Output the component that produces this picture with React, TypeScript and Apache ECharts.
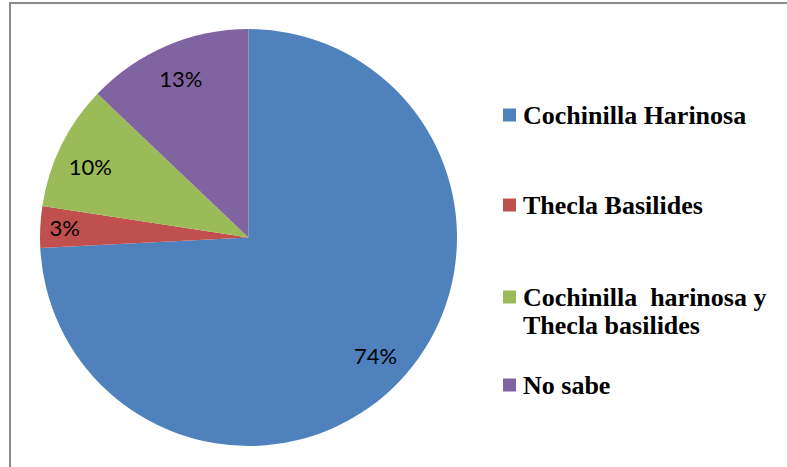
import React, { useEffect, useRef } from "react";
import * as echarts from "echarts";

const categories = [
  "Cochinilla Harinosa",
  "Thecla Basilides",
  "Cochinilla  harinosa y\nThecla basilides",
  "No sabe",
];
const counts = [23, 1, 3, 4];
const colors = ["#4F81BD", "#C0504D", "#9BBB59", "#8064A2"];
const legendCenters = [115, 205, 297, 385];
const labelOffsets = [[1, -2], [-10, -1], [-2, 6], [1, 1]];

export default function App() {
  const ref = useRef<HTMLDivElement>(null);
  useEffect(() => {
    if (!ref.current) return;
    const chart = echarts.init(ref.current, null, { renderer: "svg" });
    const cx = 248.5;
    const cy = 237.5;
    const r = 208.5;
    const data = categories.map((name, i) => ({ name, value: counts[i] }));
    const labelData = categories.map((name, i) => ({
      name,
      value: counts[i],
      label: { offset: labelOffsets[i] },
    }));
    const legendFont = {
      fontFamily: "Liberation Serif",
      fontWeight: "bold" as const,
      fontSize: 26,
      color: "#000",
      lineHeight: 28,
      padding: [0, 0, 0, 2],
    };
    const legends = categories.map((name, i) => {
      const multi = name.includes("\n");
      const h = multi ? 84 : 28;
      return {
        show: true,
        orient: "vertical" as const,
        left: 503,
        top: legendCenters[i] - h / 2,
        padding: 0,
        itemWidth: 13,
        itemHeight: 13,
        icon: "rect",
        selectedMode: false,
        data: [name],
        formatter: multi ? (n: string) => " \n" + n : undefined,
        textStyle: legendFont,
      };
    });
    chart.setOption({
      animation: false,
      color: colors,
      legend: legends,
      graphic: [
        {
          type: "rect",
          shape: { x: 10, y: 3, width: 800, height: 500 },
          style: { fill: "none", stroke: "#8a8a8a", lineWidth: 2 },
          silent: true,
        },
      ],
      series: [
        {
          type: "pie",
          center: [cx, cy],
          radius: [0, r],
          startAngle: 90,
          clockwise: true,
          label: { show: false },
          labelLine: { show: false },
          itemStyle: { borderWidth: 0 },
          emphasis: { disabled: true },
          data,
        },
        {
          type: "pie",
          center: [cx, cy],
          radius: [r * 0.64, r],
          startAngle: 90,
          clockwise: true,
          silent: true,
          percentPrecision: 0,
          itemStyle: { color: "rgba(0,0,0,0)", borderWidth: 0 },
          label: {
            show: true,
            position: "inside",
            formatter: "{d}%",
            fontFamily: "Lato",
            fontSize: 22,
            color: "#000",
          },
          labelLine: { show: false },
          emphasis: { disabled: true },
          data: labelData,
        },
      ],
    });
    return () => chart.dispose();
  }, []);
  return (
    <div
      ref={ref}
      style={{ position: "fixed", left: 0, top: 0, width: 787, height: 467, background: "#fff" }}
    />
  );
}
